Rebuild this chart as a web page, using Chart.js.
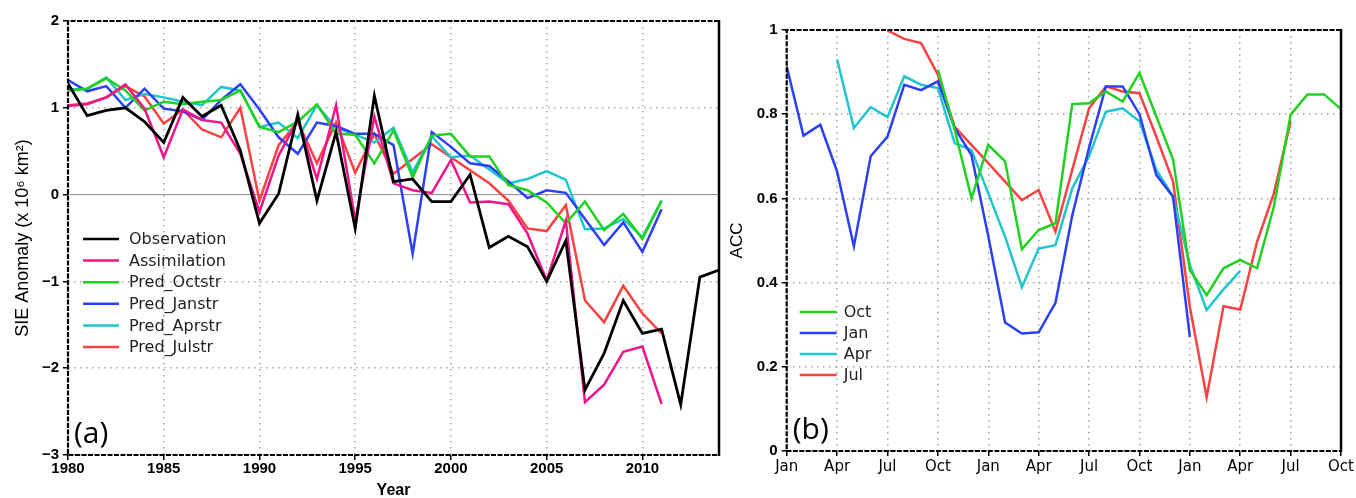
<!DOCTYPE html>
<html>
<head>
<meta charset="utf-8">
<script src="https://cdn.jsdelivr.net/npm/chart.js@4.4.1/dist/chart.umd.min.js"></script>
<style>
  body { margin: 0; background: #fff; }
  #wrap { position: relative; width: 1356px; height: 498px; }
  #left { position: absolute; left: 0; top: 0; }
  #right { position: absolute; left: 725px; top: 0; }
</style>
</head>
<body>
<div id="wrap">
  <canvas id="left" width="725" height="498"></canvas>
  <canvas id="right" width="631" height="498"></canvas>
</div>
<script>
// ---- panel (a): SIE anomaly, x 10^6 km^2 ----
const years = [];
for (let y = 1980; y <= 2014; y++) years.push(y);
const yearTicks = [1980, 1985, 1990, 1995, 2000, 2005, 2010];
const sieTicks = [-3, -2, -1, 0, 1, 2];

const observation = [1.28, 0.91, 0.97, 1.00, 0.84, 0.60, 1.12, 0.90, 1.03, 0.51,
  -0.33, 0.01, 0.92, -0.07, 0.72, -0.39, 1.14, 0.15, 0.18, -0.08,
  -0.08, 0.23, -0.61, -0.48, -0.60, -1.00, -0.53, -2.25, -1.83, -1.22,
  -1.60, -1.55, -2.42, -0.95, -0.87];
const assimilation = [1.02, 1.04, 1.12, 1.27, 0.99, 0.43, 0.98, 0.86, 0.83, 0.47,
  -0.20, 0.45, 0.86, 0.18, 1.03, -0.30, 0.90, 0.13, 0.05, 0.02,
  0.40, -0.09, -0.08, -0.11, -0.45, -0.99, -0.30, -2.39, -2.19, -1.81,
  -1.75, -2.41];
const predOctstr = [1.20, 1.22, 1.34, 1.20, 0.97, 1.07, 1.04, 1.07, 1.09, 1.20,
  0.78, 0.72, 0.84, 1.04, 0.70, 0.69, 0.36, 0.74, 0.20, 0.68,
  0.70, 0.44, 0.44, 0.11, 0.05, -0.09, -0.33, -0.08, -0.41, -0.22,
  -0.51, -0.07];
const predJanstr = [1.32, 1.19, 1.25, 1.00, 1.22, 0.99, 0.96, 0.86, 1.09, 1.27,
  0.98, 0.66, 0.47, 0.83, 0.79, 0.70, 0.70, 0.57, -0.68, 0.72,
  0.55, 0.36, 0.33, 0.15, -0.04, 0.05, 0.02, -0.28, -0.58, -0.32,
  -0.66, -0.17];
const predAprstr = [1.21, 1.22, 1.35, 1.09, 1.16, 1.12, 1.07, 1.03, 1.24, 1.20,
  0.78, 0.83, 0.65, 1.03, 0.77, 0.69, 0.60, 0.77, 0.26, 0.67,
  0.43, 0.45, 0.29, 0.13, 0.18, 0.27, 0.17, -0.40, -0.39, -0.28,
  -0.49, -0.07];
const predJulstr = [1.03, 1.05, 1.12, 1.25, 1.13, 0.82, 0.98, 0.75, 0.66, 1.00,
  -0.07, 0.57, 0.84, 0.36, 0.83, 0.25, 0.70, 0.24, 0.41, 0.58,
  0.43, 0.28, 0.13, -0.07, -0.39, -0.42, -0.12, -1.22, -1.47, -1.05,
  -1.37, -1.60];

// ---- panel (b): ACC by lead month, start months Oct/Jan/Apr/Jul ----
const monthNames = ['Jan', 'Apr', 'Jul', 'Oct', 'Jan', 'Apr', 'Jul', 'Oct', 'Jan', 'Apr', 'Jul', 'Oct'];
const months = [];
for (let m = 0; m <= 33; m++) months.push(m);
const accTicks = [0, 0.2, 0.4, 0.6, 0.8, 1];

const accOct = [null, null, null, null, null, null, null, null, null,
  0.906, 0.763, 0.60, 0.727, 0.688, 0.479, 0.525, 0.541, 0.824, 0.826, 0.854, 0.83, 0.898,
  0.795, 0.692, 0.43, 0.37, 0.434, 0.454, 0.434, 0.58, 0.799, 0.847, 0.847, 0.812];
const accJan = [0.914, 0.749, 0.775, 0.664, 0.486, 0.70, 0.747, 0.87, 0.857, 0.878,
  0.767, 0.703, 0.51, 0.305, 0.279, 0.282, 0.352, 0.56, 0.72, 0.866, 0.866, 0.80,
  0.656, 0.604, 0.271, null, null, null, null, null, null, null, null, null];
const accApr = [null, null, null,
  0.93, 0.767, 0.817, 0.793, 0.89, 0.87, 0.862, 0.731, 0.715, 0.612, 0.509, 0.389,
  0.481, 0.489, 0.624, 0.70, 0.806, 0.814, 0.783, 0.668, 0.604, 0.442, 0.335, 0.384, 0.428,
  null, null, null, null, null, null];
const accJul = [null, null, null, null, null, null,
  0.999, 0.979, 0.969, 0.894, 0.77, 0.727, 0.684, 0.64, 0.596, 0.62, 0.521, 0.668,
  0.814, 0.866, 0.854, 0.85, 0.747, 0.64, 0.342, 0.128, 0.344, 0.336, 0.497, 0.612, 0.783,
  null, null, null];

const tickFont = { family: 'Liberation Sans', size: 15, weight: 'bold' };
const geoFont = 'DejaVu Sans';
const gridGray = '#a8a8a8';

function xy(xs, ys) {
  return ys.map((v, i) => ({ x: xs[i], y: v }));
}
function line(label, color, data, width) {
  return { label, data, borderColor: color, backgroundColor: color, borderWidth: width || 2.5,
    pointRadius: 0, tension: 0, spanGaps: false };
}

// frame: dashed thick black on top/bottom/left, solid on right
const framePlugin = {
  id: 'frame',
  afterDatasetsDraw(chart, args, opts) {
    const { left, right, top, bottom } = chart.chartArea;
    const ctx = chart.ctx;
    ctx.save();
    ctx.strokeStyle = '#000';
    ctx.lineWidth = 2.2;
    ctx.setLineDash([5, 1.5]);
    ctx.beginPath();
    ctx.moveTo(right, top); ctx.lineTo(left, top); ctx.lineTo(left, bottom); ctx.lineTo(right, bottom);
    ctx.stroke();
    ctx.setLineDash([]);
    ctx.lineWidth = 2.5;
    ctx.beginPath();
    ctx.moveTo(right, top - 1); ctx.lineTo(right, bottom + 1);
    ctx.stroke();
    ctx.restore();
  }
};

// solid zero line for panel (a)
const zeroPlugin = {
  id: 'zero',
  beforeDatasetsDraw(chart, args, opts) {
    if (!opts.on) return;
    const y = chart.scales.y.getPixelForValue(0);
    const { left, right } = chart.chartArea;
    const ctx = chart.ctx;
    ctx.save();
    ctx.strokeStyle = '#8c8c8c';
    ctx.lineWidth = 1;
    ctx.beginPath();
    ctx.moveTo(left, y); ctx.lineTo(right, y);
    ctx.stroke();
    ctx.restore();
  }
};

// legend lines + labels, and the panel letter
const keyPlugin = {
  id: 'key',
  afterDraw(chart, args, opts) {
    const ctx = chart.ctx;
    const { left, bottom } = chart.chartArea;
    ctx.save();
    ctx.font = opts.size + 'px "' + geoFont + '"';
    ctx.textBaseline = 'middle';
    chart.data.datasets.forEach((ds, i) => {
      const y = opts.y0 + i * opts.dy;
      ctx.strokeStyle = ds.borderColor;
      ctx.lineWidth = 2.5;
      ctx.beginPath();
      ctx.moveTo(left + opts.x0, y); ctx.lineTo(left + opts.x0 + opts.len, y);
      ctx.stroke();
      ctx.fillStyle = '#222';
      ctx.fillText(ds.label, left + opts.x0 + opts.len + opts.gap, y + 1);
    });
    ctx.font = '30px "Open Sans"';
    ctx.textBaseline = 'alphabetic';
    ctx.fillStyle = '#000';
    ctx.fillText(opts.letter, left + 6, bottom - 12);
    ctx.restore();
  }
};

const dottedGrid = {
  color: (c) => (c.tick && (c.tick.value === 0 && c.scale.id === 'y' && c.chart.canvas.id === 'left')) ? 'rgba(0,0,0,0)' : gridGray,
  lineWidth: 1.5,
  drawTicks: true,
  tickLength: 5,
  tickColor: '#000',
  tickWidth: 1.5
};

new Chart(document.getElementById('left'), {
  type: 'line',
  data: {
    datasets: [
      line('Observation', '#000000', xy(years, observation), 2.8),
      line('Assimilation', '#f0158a', xy(years, assimilation)),
      line('Pred_Octstr', '#1fd21f', xy(years, predOctstr)),
      line('Pred_Janstr', '#2b40f5', xy(years, predJanstr)),
      line('Pred_Aprstr', '#20c6cc', xy(years, predAprstr)),
      line('Pred_Julstr', '#fa4242', xy(years, predJulstr))
    ]
  },
  plugins: [zeroPlugin, framePlugin, keyPlugin],
  options: {
    responsive: false,
    animation: false,
    layout: { padding: { left: 0, right: 6, top: 21, bottom: 0 } },
    plugins: {
      legend: { display: false },
      tooltip: { enabled: false },
      zero: { on: true },
      key: { x0: 15, len: 36, gap: 10, y0: 239, dy: 21.6, size: 16, letter: '(a)' }
    },
    scales: {
      x: {
        type: 'linear', min: 1980, max: 2014,
        afterBuildTicks: (s) => { s.ticks = yearTicks.map(v => ({ value: v })); },
        afterFit: (s) => { s.height = 43; },
        grid: dottedGrid,
        border: { display: false, dash: [1.5, 4.5] },
        ticks: { color: '#000', font: tickFont, padding: 0, maxRotation: 0, autoSkip: false,
          callback: (v) => String(v) },
        title: { display: true, text: 'Year', color: '#000', font: { family: 'Liberation Sans', size: 16, weight: 'bold', lineHeight: 0.9 }, padding: { top: 0, bottom: 0 } }
      },
      y: {
        type: 'linear', min: -3, max: 2,
        afterBuildTicks: (s) => { s.ticks = sieTicks.map(v => ({ value: v })); },
        afterFit: (s) => { s.width = 68; },
        grid: dottedGrid,
        border: { display: false, dash: [1.5, 4.5] },
        ticks: { color: '#000', font: tickFont, padding: 4,
          callback: (v) => (v < 0 ? '\u2212' + Math.abs(v) : String(v)) },
        title: { display: true, text: 'SIE Anomaly (x 10\u2076 km\u00b2)', color: '#000', font: { family: 'Liberation Sans', size: 18 }, padding: { top: 12, bottom: 0 } }
      }
    }
  }
});

new Chart(document.getElementById('right'), {
  type: 'line',
  data: {
    datasets: [
      line('Oct', '#1fd21f', xy(months, accOct)),
      line('Jan', '#2b40f5', xy(months, accJan)),
      line('Apr', '#20c6cc', xy(months, accApr)),
      line('Jul', '#fa4242', xy(months, accJul))
    ]
  },
  plugins: [framePlugin, keyPlugin],
  options: {
    responsive: false,
    animation: false,
    layout: { padding: { left: 0, right: 8, top: 30, bottom: 0 } },
    plugins: {
      legend: { display: false },
      tooltip: { enabled: false },
      zero: { on: false },
      key: { x0: 13, len: 37, gap: 7, y0: 312, dy: 21, size: 16, letter: '(b)' }
    },
    scales: {
      x: {
        type: 'linear', min: 0, max: 33,
        afterBuildTicks: (s) => { s.ticks = monthNames.map((n, i) => ({ value: i * 3 })); },
        afterFit: (s) => { s.height = 47; },
        grid: dottedGrid,
        border: { display: false, dash: [1.5, 4.5] },
        ticks: { color: '#000', font: { family: geoFont, size: 15 }, padding: 2, maxRotation: 0, autoSkip: false,
          callback: (v) => monthNames[Math.round(v / 3)] }
      },
      y: {
        type: 'linear', min: 0, max: 1,
        afterBuildTicks: (s) => { s.ticks = accTicks.map(v => ({ value: v })); },
        afterFit: (s) => { s.width = 61.7; },
        grid: dottedGrid,
        border: { display: false, dash: [1.5, 4.5] },
        ticks: { color: '#000', font: tickFont, padding: 4,
          callback: (v) => String(Math.round(v * 10) / 10) },
        title: { display: true, text: 'ACC', color: '#000', font: { family: 'Liberation Sans', size: 17 }, padding: { top: 2, bottom: 0 } }
      }
    }
  }
});
</script>
</body>
</html>
